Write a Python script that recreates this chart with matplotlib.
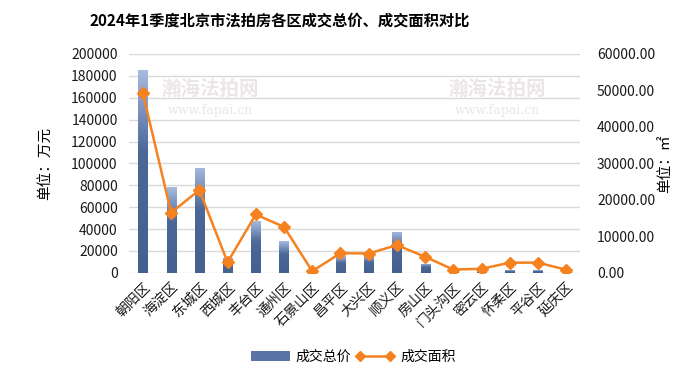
import numpy as np
import matplotlib
matplotlib.use('Agg')
import matplotlib.pyplot as plt
from matplotlib.patches import Patch
from matplotlib.lines import Line2D
from matplotlib.colors import LinearSegmentedColormap

plt.rcParams['font.family'] = ['Noto Sans CJK SC', 'DejaVu Sans']

districts = ['朝阳区', '海淀区', '东城区', '西城区', '丰台区', '通州区', '石景山区', '昌平区',
             '大兴区', '顺义区', '房山区', '门头沟区', '密云区', '怀柔区', '平谷区', '延庆区']
total_price = [185000, 78000, 96000, 14000, 47500, 29000, 1000, 15500,
               16000, 37500, 8500, 2000, 1500, 2500, 2500, 1000]
area = [49200, 16500, 22700, 2900, 16000, 12600, 450, 5400,
        5300, 7600, 4400, 900, 1100, 2800, 2800, 850]

left_ticks = np.arange(0, 200001, 20000)
right_ticks = np.arange(0, 60001, 10000)

bar_dark = '#44608f'
line_col = '#f5821f'
grid_col = '#d9d9d9'

fig = plt.figure(figsize=(7, 3.8), dpi=100)
ax1 = fig.add_axes([0.184, 0.282, 0.645, 0.576])
ax2 = ax1.twinx()

x = np.arange(len(districts))
bars = ax1.bar(x, total_price, width=0.32, color=bar_dark, zorder=2)

# gradient fill inside each bar (light on top, dark below)
cmap = LinearSegmentedColormap.from_list('g', [(0, '#44608f'), (0.6, '#4c6898'), (1, '#a7bbdf')])
grad = np.linspace(0, 1, 256).reshape(-1, 1)
for b in bars:
    x0, w, h = b.get_x(), b.get_width(), b.get_height()
    im = ax1.imshow(grad, cmap=cmap, extent=[x0, x0 + w, 0, h], origin='lower',
                    aspect='auto', zorder=2.5)
    im.set_clip_path(b)

ax1.set_xlim(-0.5, len(districts) - 0.5)
ax1.set_ylim(0, 200000)
ax1.set_yticks(left_ticks)
ax1.set_yticklabels([str(v) for v in left_ticks])
ax1.yaxis.grid(True, color=grid_col, linewidth=1, zorder=0)
ax1.set_axisbelow(True)
ax1.set_xticks(x)
ax1.set_xticklabels(districts, rotation=45, ha='right', rotation_mode='anchor', fontsize=10)
ax1.tick_params(axis='y', length=0, labelsize=10, colors='#1a1a1a', pad=8)
ax1.tick_params(axis='x', length=0, colors='#1a1a1a', pad=5)
ax1.set_ylabel('单位：万元', fontsize=10.5, labelpad=14)

ax2.plot(x, area, color=line_col, linewidth=1.8, marker='D', markersize=6, zorder=3)
ax2.set_ylim(0, 60000)
ax2.set_yticks(right_ticks)
ax2.set_yticklabels(['%.2f' % v for v in right_ticks])
ax2.tick_params(axis='y', length=0, labelsize=10, colors='#1a1a1a', pad=12)
ax2.set_ylabel('单位：㎡', fontsize=10.5, labelpad=2)

for a in (ax1, ax2):
    for s in a.spines.values():
        s.set_visible(False)

# faint watermark
for wx, wy in [(0.30, 0.765), (0.71, 0.765)]:
    fig.text(wx, wy, '瀚海法拍网', fontsize=14, fontweight='bold', color='#ebe6e6',
             ha='center', va='center', zorder=0)
    fig.text(wx, wy - 0.055, 'www.fapai.cn', fontsize=9, color='#ebe6e6',
             family='DejaVu Serif', ha='center', va='center', zorder=0)

fig.text(0.40, 0.945, '2024年1季度北京市法拍房各区成交总价、成交面积对比',
         fontsize=11, fontweight='bold', ha='center', va='center')

handles = [Patch(facecolor='#5a75a5', edgecolor='none'),
           Line2D([0], [0], color=line_col, linewidth=1.8, marker='D', markersize=5)]
fig.legend(handles, ['成交总价', '成交面积'], loc='center', bbox_to_anchor=(0.505, 0.06),
           ncol=2, frameon=False, fontsize=10, numpoints=2, handlelength=2.8,
           columnspacing=0.3, handletextpad=0.4)

fig.savefig('out.png', dpi=100)
